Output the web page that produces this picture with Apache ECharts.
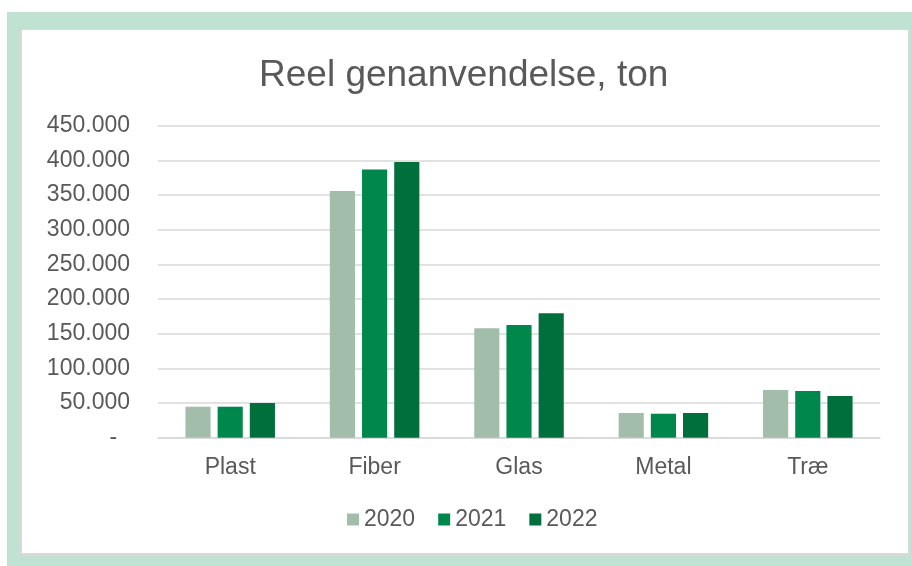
<!DOCTYPE html>
<html>
<head>
<meta charset="utf-8">
<script src="https://cdn.jsdelivr.net/npm/echarts@6/dist/echarts.min.js"></script>
<style>
html,body{margin:0;padding:0;background:#fff;}
#c{width:912px;height:566px;}
</style>
</head>
<body>
<div id="c"></div>
<script>
const categories = ['Plast', 'Fiber', 'Glas', 'Metal', 'Træ'];
const years = ['2020', '2021', '2022'];
const values2020 = [44700, 355800, 157800, 35600, 68800];
const values2021 = [44700, 387000, 162500, 34600, 67300];
const values2022 = [50000, 397600, 179400, 35600, 60100];
const yTicks = { min: 0, max: 450000, interval: 50000 };
const colors = ['#A2BEAA', '#00884C', '#006F3C'];

const FONT = "'Liberation Sans', Arial, sans-serif";
const TXT = '#595959';

const chart = echarts.init(document.getElementById('c'), null, { renderer: 'canvas' });

function fmt(v) {
  if (v === 0) return '-  ';
  return String(v).replace(/\B(?=(\d{3})+(?!\d))/g, '.');
}

const seriesData = [values2020, values2021, values2022];

chart.setOption({
  animation: false,
  backgroundColor: '#ffffff',
  graphic: [
    { type: 'rect', z: -10, silent: true, shape: { x: 7, y: 12, width: 905, height: 554 }, style: { fill: '#BFE2D2' } },
    { type: 'rect', z: -9, silent: true, shape: { x: 20, y: 29, width: 890, height: 526 }, style: { fill: '#D9D9D9' } },
    { type: 'rect', z: -8, silent: true, shape: { x: 22, y: 30, width: 886, height: 523 }, style: { fill: '#FFFFFF' } }
  ],
  title: {
    text: 'Reel genanvendelse, ton',
    left: 254,
    top: 52,
    textStyle: { fontFamily: FONT, fontSize: 37, fontWeight: 'normal', color: TXT }
  },
  legend: {
    data: years,
    bottom: 30,
    left: 342,
    itemWidth: 12,
    itemHeight: 12,
    itemGap: 23,
    icon: 'rect',
    textStyle: { fontFamily: FONT, fontSize: 23, color: TXT }
  },
  grid: { left: 158, right: 32, top: 125.7, bottom: 128.3, containLabel: false },
  xAxis: {
    type: 'category',
    data: categories,
    axisLine: { lineStyle: { color: '#D9D9D9', width: 1.5 } },
    axisTick: { show: false },
    axisLabel: { fontFamily: FONT, fontSize: 23, color: TXT, margin: 18 }
  },
  yAxis: {
    type: 'value',
    min: yTicks.min,
    max: yTicks.max,
    interval: yTicks.interval,
    axisLine: { show: false },
    axisTick: { show: false },
    splitLine: { lineStyle: { color: '#D9D9D9', width: 1.5 } },
    axisLabel: { fontFamily: FONT, fontSize: 23, color: TXT, margin: 28, formatter: fmt }
  },
  series: years.map((y, i) => ({
    name: y,
    type: 'bar',
    data: seriesData[i],
    barGap: '28%',
    barCategoryGap: '38%',
    itemStyle: { color: colors[i] }
  }))
});
</script>
</body>
</html>
